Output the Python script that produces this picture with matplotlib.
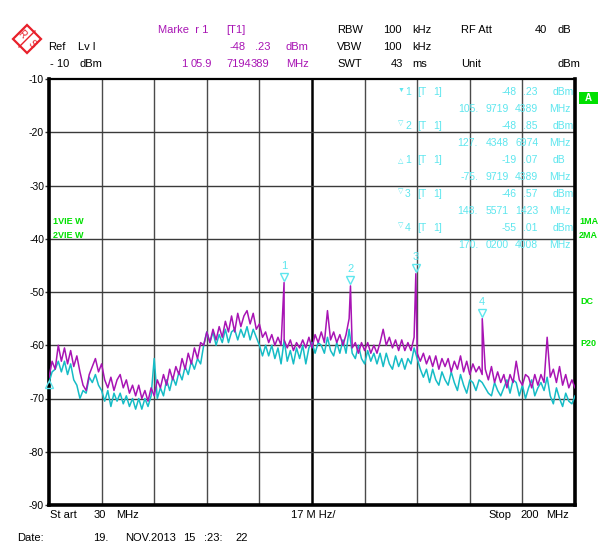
import numpy as np
import matplotlib.pyplot as plt
from matplotlib.patches import Polygon, Rectangle

plt.rcParams['font.family'] = ['Liberation Sans', 'DejaVu Sans']

W, H = 607, 551

# sweep settings
f_start = 30
f_stop = 200
ref_lvl = -10
lvl_bottom = -90
freq = np.arange(f_start, f_stop + 1)

# trace 1 (magenta) and trace 2 (cyan), dBm per 1 MHz step, 30..200 MHz
trace1 = [
    -66, -63, -64.5, -60, -63, -60.5, -63.5, -61, -64, -62,            # 30
    -65, -67.5, -68.5, -65.5, -64, -62.5, -65, -63.5, -66.5, -68,      # 40
    -66, -68.5, -66.5, -65.5, -68, -66.5, -69, -67.5, -69.5, -67.5,    # 50
    -70, -68.5, -70.5, -68, -69.5, -66.5, -68, -65.5, -67.5, -64.5,    # 60
    -66.5, -64, -65.5, -62.5, -64.5, -61.5, -63.5, -60.5, -62.5, -59.5,  # 70
    -60, -57.5, -59.5, -57, -59, -56.5, -58.5, -55.5, -57.5, -54.5,    # 80
    -57.5, -54, -56.5, -54.5, -53.5, -56, -54, -57, -56, -58.5,        # 90
    -57.5, -59.5, -58, -60, -58.5, -60, -59, -60.5, -59, -61,          # 100
    -59.5, -60.5, -59, -60.5, -58.5, -60.5, -58, -59.5, -57.5, -59.5,  # 110
    -53.5, -59, -57.5, -59.5, -58, -60, -58, -55, -60.5, -59.5,        # 120
    -61.5, -59.5, -61, -59.5, -61.5, -60, -61.5, -59.5, -57, -60,      # 130
    -58.5, -60.5, -59, -61, -59, -61, -59.5, -61, -58.5, -61.5,        # 140
    -63, -61.5, -63.5, -62, -64, -62, -64.5, -62.5, -64, -62.5,        # 150
    -65, -63, -64.5, -62, -65, -63, -65.5, -63.5, -65, -64,            # 160
    -65.5, -64.5, -66.5, -64, -67, -65, -67, -65.5, -68, -65.5,        # 170
    -67, -63, -66.5, -67.5, -65.5, -66, -68, -65.5, -67.5, -65.5,      # 180
    -67, -58.5, -66, -64.5, -67, -64, -67.5, -65.5, -68, -66.5,        # 190
    -68,                                                               # 200
]
trace2 = [
    -67, -65, -64.5, -63, -65, -63, -65.5, -63.5, -66.5, -67.5,        # 30
    -70, -68.5, -69, -66, -67, -65.5, -67.5, -68.5, -70.5, -68.5,      # 40
    -71.5, -69, -70.5, -69, -71, -69.5, -71.5, -70, -72, -70,          # 50
    -72, -70, -71.5, -69.5, -62.5, -70, -68, -69.5, -66.5, -68.5,      # 60
    -66, -67.5, -65, -66.5, -64, -65.5, -63, -64.5, -62.5, -63.5,      # 70
    -60, -57.5, -59.5, -57.5, -60, -58, -59.5, -57, -59.5, -57.5,      # 80
    -57, -59, -57, -58.5, -56.5, -59, -57, -58.5, -60, -62,            # 90
    -60, -62, -60, -62.5, -60.5, -63.5, -59, -63, -61, -63.5,          # 100
    -60.5, -62.5, -60, -63.5, -60.5, -59.5, -61.5, -59.5, -60, -61.5,  # 110
    -58.5, -61, -62, -59.5, -61.5, -59, -61.5, -57, -61.5, -62.5,      # 120
    -60, -62.5, -63.5, -61, -63, -61.5, -63.5, -61.5, -64, -61.5,      # 130
    -63.5, -64.5, -62, -64, -62.5, -64.5, -62.5, -63.5, -60.5, -62.5,  # 140
    -64.5, -66, -64.5, -67, -64.5, -66.5, -67.5, -65, -66.5, -67.5,    # 150
    -65, -67, -68.5, -65.5, -67.5, -69, -66.5, -67, -68.5, -66.5,      # 160
    -67, -68, -69, -69.5, -67, -68.5, -69.5, -68, -66.5, -69,          # 170
    -66.5, -67, -69.5, -67.5, -70, -68, -66.5, -69.5, -68, -67,        # 180
    -68.5, -66, -69.5, -71, -68, -70, -71.5, -69, -70.5, -71,          # 190
    -69.5,                                                             # 200
]

# markers on trace 1
marker_no = ['1', '2', '3', '4']
marker_f = [105.97194389, 127.43486974, 148.55711423, 170.02004008]
marker_db = [-48.23, -48.85, -46.57, -55.01]
delta_f = 30.0
delta_db = -67.30

MAG = '#a814b4'
CYN = '#16bcc6'
TCYN = '#5ee6ee'
GRN = '#00e000'

# put the marker peaks into trace 1
f1 = np.concatenate([freq, marker_f])
d1 = np.concatenate([trace1, marker_db])
order = np.argsort(f1)
f1, d1 = f1[order], d1[order]

fig = plt.figure(figsize=(W / 100, H / 100), dpi=100)
fig.patch.set_facecolor('white')

ax = fig.add_axes([49 / W, 1 - 505 / H, 526 / W, 426 / H])
ax.set_xlim(f_start, f_stop)
ax.set_ylim(lvl_bottom, ref_lvl)

# grid
for xv in np.linspace(f_start, f_stop, 11)[1:-1]:
    if abs(xv - 115) < 1e-6:
        ax.axvline(xv, color='black', lw=1.8, zorder=1)
    else:
        ax.axvline(xv, color='#4a4a4a', lw=1.0, zorder=1)
for yv in range(-80, -10, 10):
    ax.axhline(yv, color='#3a3a3a', lw=1.0, zorder=1)

for side, lw in [('left', 2.6), ('right', 2.6), ('bottom', 2.6), ('top', 1.6)]:
    ax.spines[side].set_linewidth(lw)
    ax.spines[side].set_color('black')

ax.set_xticks([])
ax.set_yticks(range(lvl_bottom, ref_lvl + 1, 10))
ax.set_yticklabels([str(v) for v in range(lvl_bottom, ref_lvl + 1, 10)])
ax.tick_params(axis='y', length=3, width=1, pad=0.5, labelsize=7.5, color='#333333')

# traces
ax.plot(freq, trace2, color=CYN, lw=1.1, zorder=3)
ax.plot(f1, d1, color=MAG, lw=1.1, zorder=4)

# marker symbols
for no, mf, md in zip(marker_no, marker_f, marker_db):
    ax.plot(mf, md + 1.1, marker='v', ms=5.5, mfc='none', mec=TCYN, mew=1.0, zorder=5)
    ax.text(mf, md + 2.2, no, color=TCYN, fontsize=8, ha='center', va='bottom', zorder=5)
ax.plot(delta_f, delta_db, marker='^', ms=6, mfc='none', mec=TCYN, mew=1.0,
        clip_on=False, zorder=5)

# overlay in pixel coordinates for the text around the screen
ov = fig.add_axes([0, 0, 1, 1])
ov.set_xlim(0, W)
ov.set_ylim(H, 0)
ov.axis('off')
ov.patch.set_alpha(0)


def put(x, y, s, color='black', size=8, ha='left', **kw):
    ov.text(x, y, s, color=color, fontsize=size, ha=ha, va='center', **kw)


# R&S logo
ov.add_patch(Polygon([(27, 25), (41, 39), (27, 53), (13, 39)], closed=True,
                     fill=False, edgecolor='#e8202a', lw=1.6))
ov.plot([19, 35], [47, 31], color='#e8202a', lw=1.0)
put(22, 34, 'R', color='#e8202a', size=7, ha='center', rotation=-45)
put(32, 44, 'S', color='#e8202a', size=7, ha='center', rotation=-45)

# header
put(158, 30, 'Marke  r 1', MAG)
put(226, 30, '[T1]', MAG)
put(337, 30, 'RBW')
put(383, 30, '100')
put(412, 30, 'kHz')
put(461, 30, 'RF Att')
put(535, 30, '40')
put(557, 30, 'dB')

put(48, 47, 'Ref')
put(78, 47, 'Lv l')
put(246, 47, '-48', MAG, ha='right')
put(255, 47, '.23', MAG)
put(286, 47, 'dBm', MAG)
put(337, 47, 'VBW')
put(383, 47, '100')
put(412, 47, 'kHz')

put(50, 64, '- 10')
put(80, 64, 'dBm')
put(181, 64, '1', MAG)
put(191, 64, '05.9', MAG)
put(226, 64, '7194', MAG)
put(251, 64, '389', MAG)
put(286, 64, 'MHz', MAG)
put(337, 64, 'SWT')
put(391, 64, '43')
put(412, 64, 'ms')
put(461, 64, 'Unit')
put(557, 64, 'dBm')

# marker table
table_rows = [
    ('\u25bc', '1', '-48', '.23', 'dBm', '105.', '9719', '4389'),
    ('\u25bd', '2', '-48', '.85', 'dBm', '127.', '4348', '6974'),
    ('\u25b3', '1', '-19', '.07', 'dB', '-75.', '9719', '4389'),
    ('\u25bd', '3', '-46', '.57', 'dBm', '148.', '5571', '1423'),
    ('\u25bd', '4', '-55', '.01', 'dBm', '170.', '0200', '4008'),
]
for i, (sym, no, lv, dec, unit, fa, fb, fc) in enumerate(table_rows):
    y = 92 + i * 34
    sy = y - 2 if sym != '\u25b3' else y + 2
    put(398, sy, sym, TCYN, size=5)
    put(405, y, no, TCYN, size=7.5)
    put(417, y, '[T', TCYN, size=7.5)
    put(433, y, '1]', TCYN, size=7.5)
    put(517, y, lv, TCYN, size=7.5, ha='right')
    put(523, y, dec, TCYN, size=7.5)
    put(553, y, unit, TCYN, size=7.5)
    y2 = y + 17
    put(478, y2, fa, TCYN, size=7.5, ha='right')
    put(486, y2, fb, TCYN, size=7.5)
    put(515, y2, fc, TCYN, size=7.5)
    put(549, y2, 'MHz', TCYN, size=7.5)

# side labels
ov.add_patch(Rectangle((579, 92), 19, 12, facecolor=GRN, edgecolor='none'))
put(588.5, 98, 'A', 'white', size=7, ha='center', fontweight='bold')
put(579, 222, '1MA', GRN, size=6.5, fontweight='bold')
put(579, 235, '2MA', GRN, size=6.5, fontweight='bold')
put(580, 301, 'DC', GRN, size=6.5, fontweight='bold')
put(580, 343, 'P20', GRN, size=6.5, fontweight='bold')
put(53, 222, '1VIE W', GRN, size=6.5, fontweight='bold')
put(53, 235, '2VIE W', GRN, size=6.5, fontweight='bold')

# footer
put(50, 515, 'St art')
put(94, 515, '30')
put(116, 515, 'MHz')
put(313, 515, '17 M Hz/', ha='center')
put(488, 515, 'Stop')
put(520, 515, '200')
put(546, 515, 'MHz')

put(17, 538, 'Date:')
put(93, 538, '19.')
put(125, 538, 'NOV.2013')
put(183, 538, '15')
put(204, 538, ':23:')
put(235, 538, '22')

fig.savefig('out.png', dpi=100)
